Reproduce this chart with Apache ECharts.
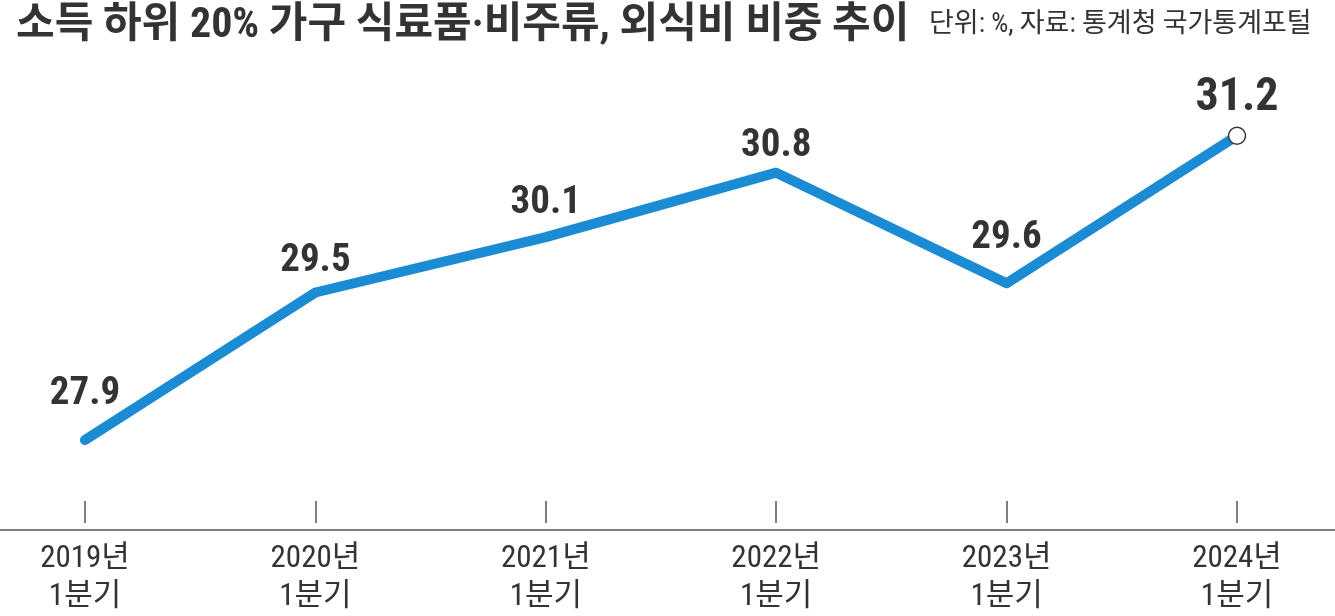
<!DOCTYPE html>
<html>
<head>
<meta charset="utf-8">
<script src="https://cdn.jsdelivr.net/npm/echarts@6/dist/echarts.min.js"></script>
<style>
    html, body { margin: 0; padding: 0; background: #fff; }
    #chart { width: 1335px; height: 616px; }
</style>
</head>
<body>
<div id="chart"></div>
<script>
let years = ["2019년", "2020년", "2021년", "2022년", "2023년", "2024년"];
let quarters = ["1분기", "1분기", "1분기", "1분기", "1분기", "1분기"];
let shares = [27.9, 29.5, 30.1, 30.8, 29.6, 31.2];
// how far each value label sits above its point
let labelGap = [32, 17, 20, 12, 31, 11];

let lineColor = '#1b8bd3';
let textColor = '#333333';
let mixedFont = '"Roboto Condensed", "Noto Sans CJK KR", sans-serif';

let categories = years.map(function (y, i) {
    return y + "\n" + quarters[i];
});

let seriesData = shares.map(function (v, i) {
    let last = i === shares.length - 1;
    let item = {
        value: v,
        label: {
            distance: labelGap[i] - 6
        }
    };
    if (last) {
        item.symbolSize = 17;
        item.itemStyle = {
            color: '#ffffff',
            borderColor: '#333333',
            borderWidth: 1.5
        };
        item.label.fontSize = 46;
    }
    return item;
});

let chart = echarts.init(document.getElementById('chart'));
chart.setOption({
    animation: false,
    title: [{
        text: '소득 하위 20% 가구 식료품·비주류, 외식비 비중 추이',
        left: 11,
        top: 0,
        textStyle: {
            fontFamily: mixedFont,
            fontSize: 42,
            fontWeight: 'bold',
            color: textColor
        }
    }, {
        text: '단위: %, 자료: 통계청 국가통계포털',
        left: 924,
        top: 7,
        textStyle: {
            fontFamily: mixedFont,
            fontSize: 27,
            fontWeight: 'normal',
            color: textColor
        }
    }],
    grid: [{
        left: 85,
        right: 98,
        top: 62,
        bottom: 86
    }, {
        left: 0,
        right: 0,
        top: 62,
        bottom: 86
    }],
    xAxis: [{
        type: 'category',
        gridIndex: 0,
        data: categories,
        boundaryGap: false,
        axisLine: { show: false },
        axisTick: {
            show: true,
            inside: true,
            length: 22,
            lineStyle: { color: '#555555', width: 1.5 }
        },
        axisLabel: {
            margin: 17,
            fontFamily: mixedFont,
            fontSize: 31,
            lineHeight: 38,
            color: textColor
        },
        splitLine: { show: false }
    }, {
        type: 'value',
        gridIndex: 1,
        min: 0,
        max: 1,
        axisLine: {
            show: true,
            lineStyle: { color: '#555555', width: 1.5 }
        },
        axisTick: { show: false },
        axisLabel: { show: false },
        splitLine: { show: false }
    }],
    yAxis: [{
        type: 'value',
        gridIndex: 0,
        min: 27,
        max: 32,
        show: false
    }, {
        type: 'value',
        gridIndex: 1,
        min: 0,
        max: 1,
        show: false
    }],
    series: [{
        type: 'line',
        xAxisIndex: 0,
        yAxisIndex: 0,
        data: seriesData,
        symbol: 'circle',
        symbolSize: 1,
        itemStyle: {
            color: 'rgba(0,0,0,0)',
            borderWidth: 0
        },
        lineStyle: {
            color: lineColor,
            width: 10,
            cap: 'round',
            join: 'round'
        },
        label: {
            show: true,
            position: 'top',
            fontFamily: mixedFont,
            fontWeight: 'bold',
            fontSize: 39,
            color: textColor,
            formatter: function (p) {
                return p.value.toFixed(1);
            }
        },
        z: 3
    }]
});
</script>
</body>
</html>
